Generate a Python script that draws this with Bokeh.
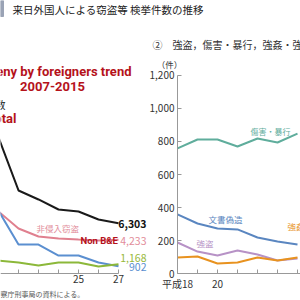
from bokeh.plotting import figure
from bokeh.models import FixedTicker, Range1d, NumeralTickFormatter, LinearAxis
from bokeh.core.properties import value
from bokeh.embed import file_html
from bokeh.resources import INLINE

JP = "Noto Sans CJK JP"

# ---- data ----
title_text = "来日外国人による窃盗等 検挙件数の推移"
sub_right = "②　強盗，傷害・暴行，強姦・強制わいせつ"

# left panel (平成21-27), counts
left_years = [21, 22, 23, 24, 25, 26, 27]
total = [17100, 10430, 9300, 8040, 7790, 6780, 6303]
non_be = [7790, 5650, 4650, 4400, 4270, 4150, 4233]
blue_s = [7900, 3640, 3640, 2260, 2260, 1380, 902]
green_s = [1630, 1380, 1000, 1380, 1380, 880, 1168]

# right panel (平成18-24), counts
right_years = [18, 19, 20, 21, 22, 23, 24]
assault = [758, 812, 812, 770, 818, 794, 848]
forgery = [358, 303, 273, 267, 218, 194, 176]
robbery = [188, 133, 109, 139, 115, 79, 91]
sexual = [97, 103, 61, 67, 97, 79, 97]

year_ticks = [18, 19, 20, 21, 22, 23, 24, 25, 26, 27]
year_labels = {18: "平成18", 20: "20", 25: "25", 27: "27"}
right_yticks = [0, 200, 400, 600, 800, 1000, 1200]

# ---- figure: whole canvas is the frame; page coordinates for texts ----
p = figure(width=300, height=300, x_range=Range1d(0, 300), y_range=Range1d(300, 0),
           output_backend="svg", toolbar_location=None, min_border=0,
           x_axis_location=None, y_axis_location=None, outline_line_color=None)
p.grid.visible = False

# scales of the two panels
p.extra_x_ranges = {"lx": Range1d(21.1, 36.1), "rx": Range1d(9.15, 24.15)}
p.extra_y_ranges = {"ly": Range1d(-3392, 34296), "ry": Range1d(-163.6, 1654.5)}


def style_axis(ax):
    ax.minor_tick_line_color = None
    ax.major_tick_in = 4
    ax.major_tick_out = 0
    ax.axis_line_color = "#999999"
    ax.major_tick_line_color = "#999999"
    ax.major_label_text_font = JP
    ax.major_label_text_font_size = "10px"
    ax.major_label_text_color = "#333333"


def year_axis(xr, yr):
    ax = LinearAxis(x_range_name=xr, y_range_name=yr, fixed_location=0,
                    bounds=(18, 27), ticker=FixedTicker(ticks=year_ticks),
                    major_label_overrides={t: year_labels.get(t, "") for t in year_ticks})
    style_axis(ax)
    ax.major_label_standoff = 2
    p.add_layout(ax, "below")


year_axis("lx", "ly")
year_axis("rx", "ry")

ya = LinearAxis(x_range_name="rx", y_range_name="ry", fixed_location=18, bounds=(0, 1200),
                ticker=FixedTicker(ticks=right_yticks),
                formatter=NumeralTickFormatter(format="0,0"))
style_axis(ya)
ya.major_label_standoff = 3
p.add_layout(ya, "left")

# ---- lines ----
kw_l = dict(x_range_name="lx", y_range_name="ly", line_width=2)
p.line(left_years, total, line_color="#1a1a1a", **kw_l)
p.line(left_years, non_be, line_color="#e0808f", **kw_l)
p.line(left_years, blue_s, line_color="#5b8fd0", **kw_l)
p.line(left_years, green_s, line_color="#8cb83a", **kw_l)

kw_r = dict(x_range_name="rx", y_range_name="ry", line_width=2)
p.line(right_years, assault, line_color="#5fad9c", **kw_r)
p.line(right_years, forgery, line_color="#5a86c0", **kw_r)
p.line(right_years, robbery, line_color="#b792c6", **kw_r)
p.line(right_years, sexual, line_color="#e8921f", **kw_r)

# ---- texts ----
def txt(x, y, t, size, color, align="left", bold=False, font=JP):
    p.text(x=[x], y=[y], text=[t], text_font=value(font), text_font_size=f"{size}px",
           text_color=color, text_align=align, text_baseline="middle",
           text_font_style="bold" if bold else "normal")


p.quad(left=[0], right=[3], top=[0], bottom=[16], color="#9aa3b5")
txt(12, 9, title_text, 10.5, "#222222")

RED = "#b5121b"
txt(131, 71, "Larceny by foreigners trend", 13, RED, "right", True, "Roboto")
txt(52, 86, "2007-2015", 13, RED, "center", True, "Roboto")
txt(5, 104, "総数", 10, "#222222", "right")
txt(16, 118, "Total", 13, RED, "right", True, "Roboto")
txt(36, 227, "非侵入窃盗", 8.5, "#e28c9a")
txt(80, 240, "Non B&E", 9.5, RED, "left", True, "Roboto")
txt(146, 223, "6,303", 10.5, "#111111", "right", True)
txt(146, 240, "4,233", 10.5, "#e28c9a", "right")
txt(146, 257, "1,168", 10.5, "#97b83a", "right")
txt(146, 266, "902", 10.5, "#5a8fd0", "right")
txt(84, 293, "警察庁刑事局の資料による。", 7, "#555555", "right")

txt(152, 44, sub_right, 10, "#333333")
txt(169, 63, "（件）", 8.5, "#333333", "center")
txt(250, 131, "傷害・暴行", 8, "#5fad9c")
txt(208, 218, "文書偽造", 8.5, "#5a86c0")
txt(196, 242, "強盗", 8.5, "#b792c6")
txt(287, 225, "強姦・強制わいせつ", 8.5, "#e8921f")

open("out.html", "w").write(file_html(p, INLINE))
